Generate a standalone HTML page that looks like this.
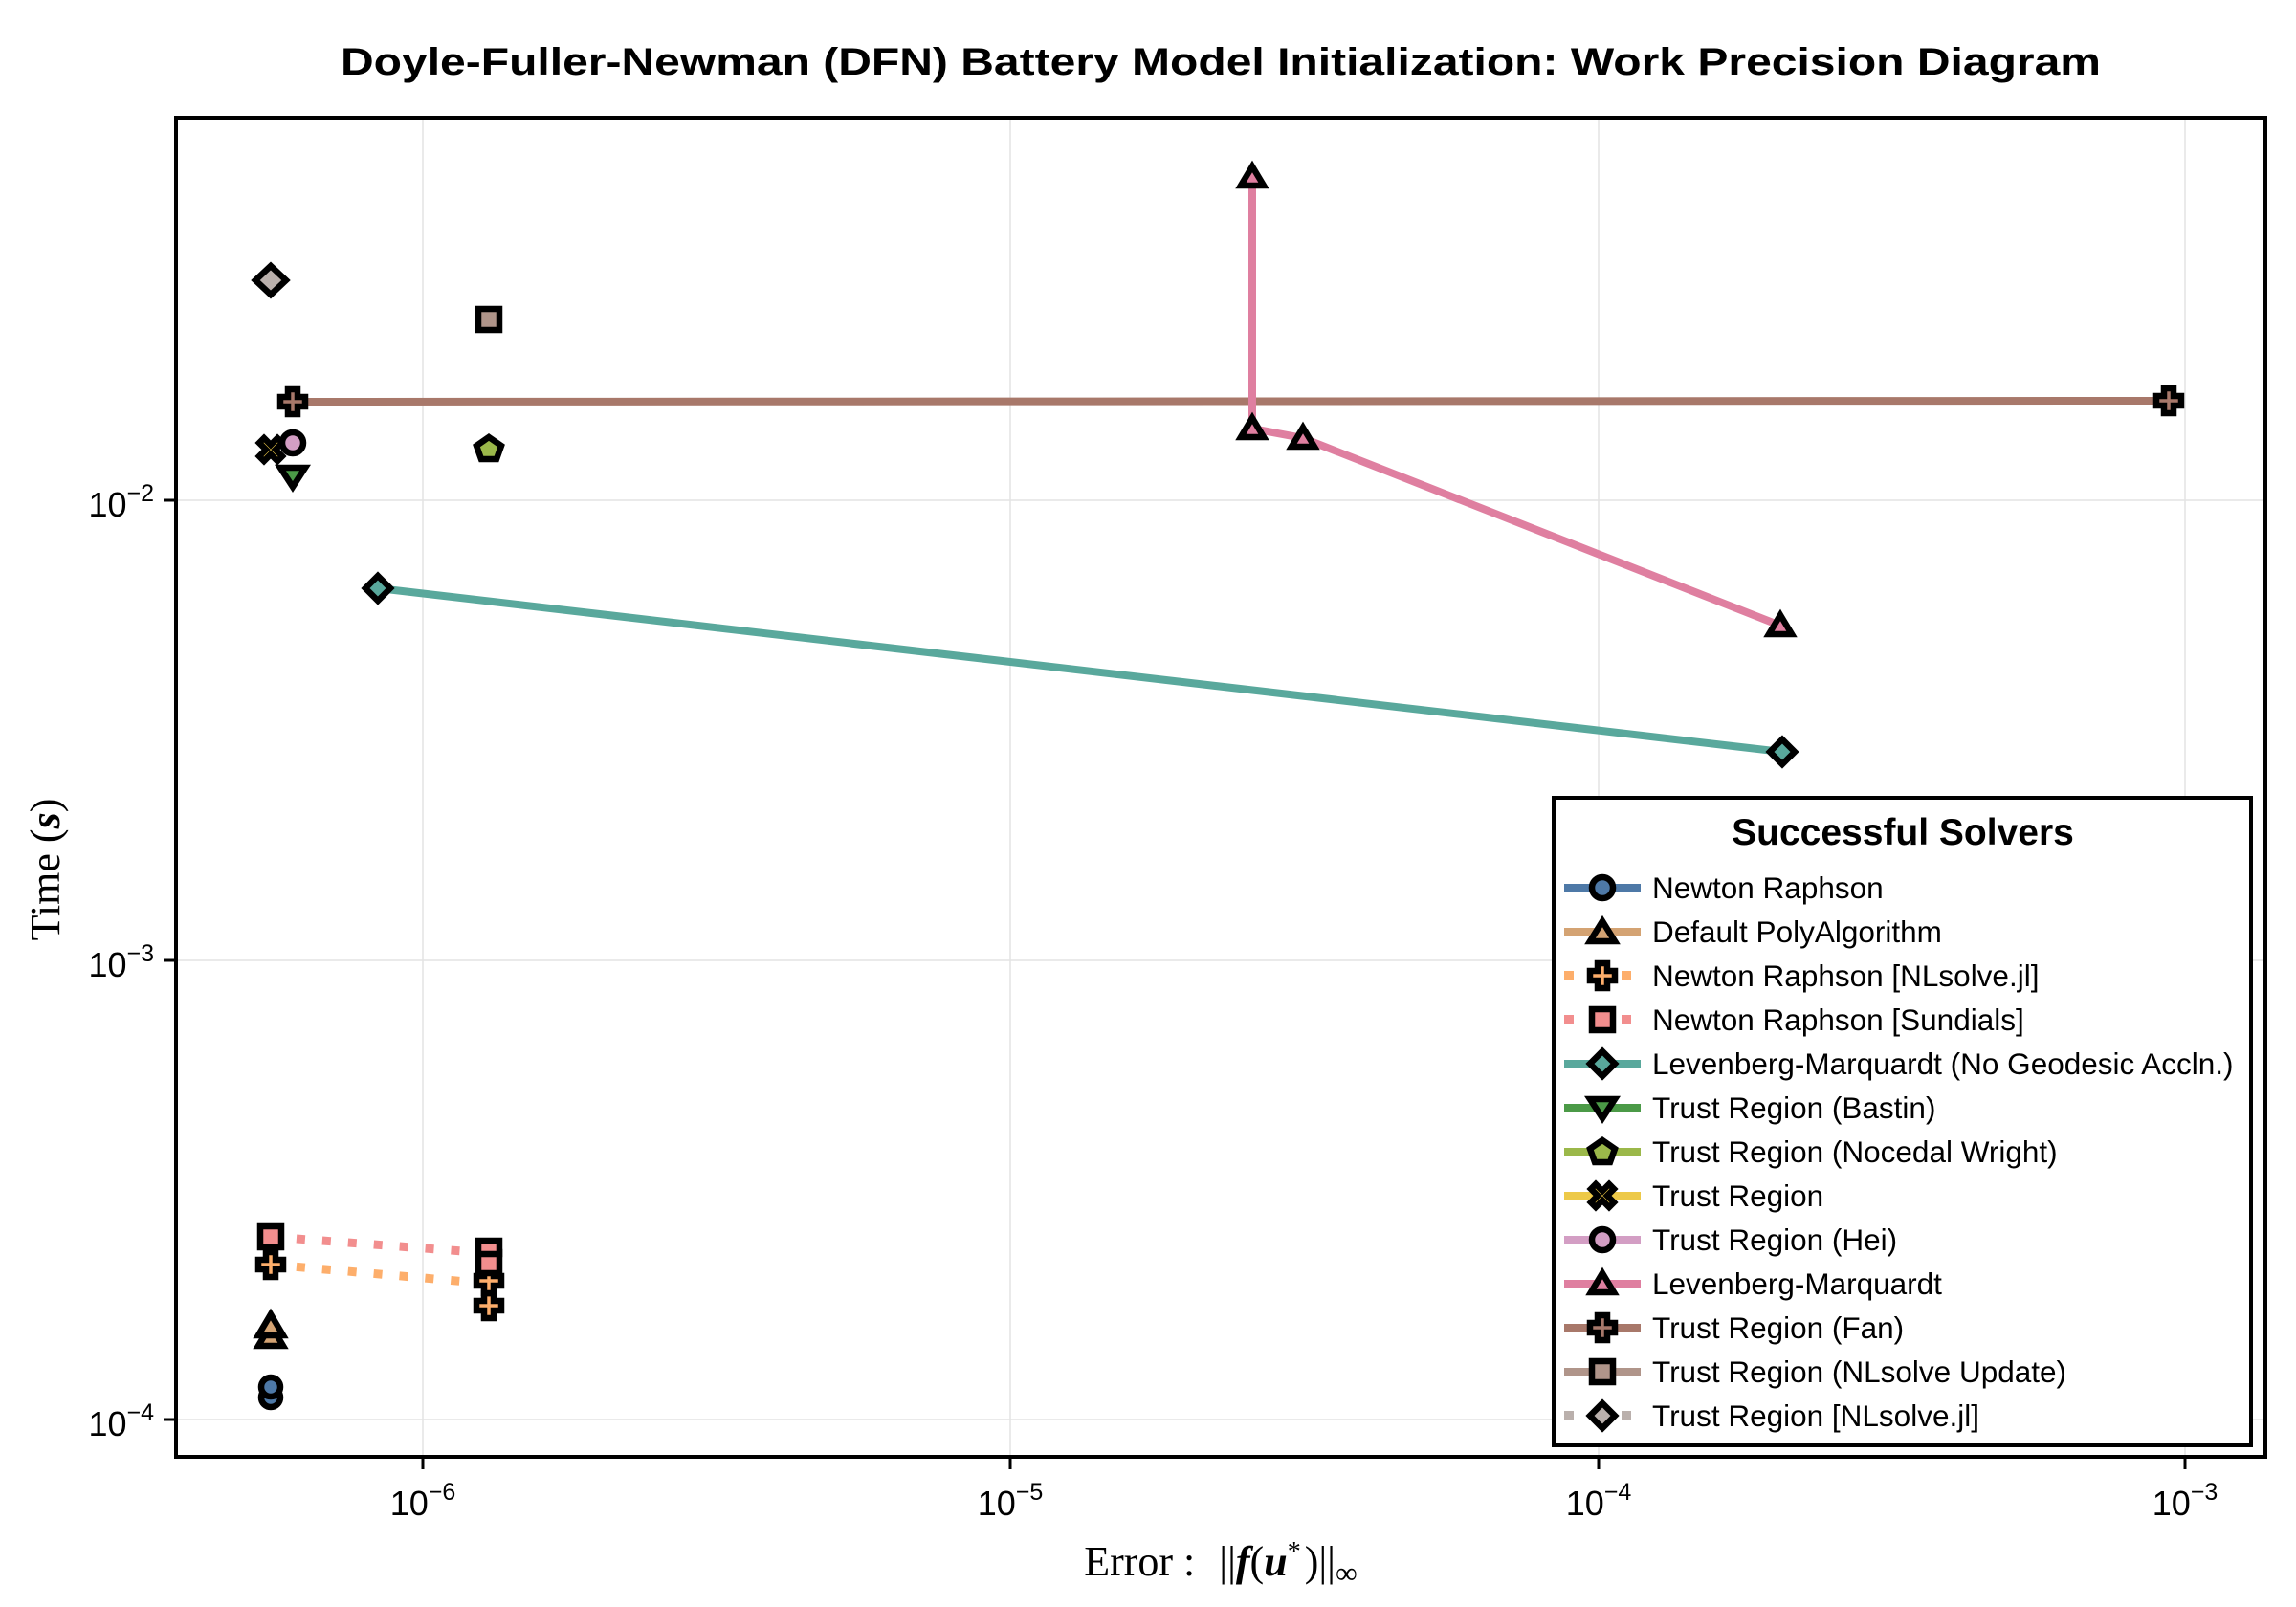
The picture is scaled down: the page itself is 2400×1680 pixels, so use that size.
<!DOCTYPE html>
<html><head><meta charset="utf-8"><style>html,body{margin:0;padding:0;background:#fff}svg{display:block}</style></head><body>
<svg width="2400" height="1680" viewBox="0 0 2400 1680" xmlns="http://www.w3.org/2000/svg" font-family="Liberation Sans, sans-serif">
<rect width="2400" height="1680" fill="#fff"/>
<text x="1276" y="78" text-anchor="middle" font-weight="bold" font-size="40" textLength="1840" lengthAdjust="spacingAndGlyphs">Doyle-Fuller-Newman (DFN) Battery Model Initialization: Work Precision Diagram</text>
<g stroke="#e3e3e3" stroke-width="1.5">
<line x1="442" y1="122" x2="442" y2="1523"/><line x1="1056" y1="122" x2="1056" y2="1523"/><line x1="1671" y1="122" x2="1671" y2="1523"/><line x1="2284" y1="122" x2="2284" y2="1523"/>
<line x1="184" y1="523" x2="2368" y2="523"/><line x1="184" y1="1004" x2="2368" y2="1004"/><line x1="184" y1="1484" x2="2368" y2="1484"/>
</g>
<polyline points="306,420 2267,419" fill="none" stroke="#a8786a" stroke-width="8"/>
<polyline points="395,615 1863,786" fill="none" stroke="#59a89c" stroke-width="8"/>
<polyline points="1309,185 1309,448 1362,458 1861,654" fill="none" stroke="#df7fa0" stroke-width="8"/>
<polyline points="283,1293 511,1310" fill="none" stroke="#f28e8e" stroke-width="9" stroke-dasharray="9,18"/>
<polyline points="283,1322 511,1342" fill="none" stroke="#fdae6b" stroke-width="9" stroke-dasharray="9,18"/>
<defs>
<path id="plus" d="M-5,-13h10v8h8v10h-8v8h-10v-8h-8v-10h8z"/>
<path id="xm" d="M-12,-7l5,-5l7,7l7,-7l5,5l-7,7l7,7l-5,5l-7,-7l-7,7l-5,-5l7,-7z"/>
</defs>
<g stroke="#000" stroke-width="6.5" stroke-linejoin="miter">
<circle cx="283" cy="1461" r="10" fill="#4e79a7"/><circle cx="283" cy="1450" r="10" fill="#4e79a7"/>
<path d="M283,1385l13,22h-26z" fill="#d4a373"/><path d="M283,1374l13,22h-26z" fill="#d4a373"/>
<use href="#plus" x="283" y="1322" fill="#fdae6b"/>
<rect x="272" y="1282" width="22" height="22" fill="#f28e8e"/>
<use href="#plus" x="511" y="1365" fill="#fdae6b"/><use href="#plus" x="511" y="1339" fill="#fdae6b"/>
<rect x="500" y="1309" width="22" height="22" fill="#f28e8e"/><rect x="500" y="1297" width="22" height="14" fill="#f28e8e"/>
<path d="M283,278l16,15l-16,15l-16,-15z" fill="#bab0ac"/>
<rect x="500" y="323" width="22" height="22" fill="#b0958a"/>
<path d="M306,509l-13,-20h26z" fill="#4b9a47"/>
<use href="#xm" x="283" y="470" fill="#edc948"/>
<circle cx="306" cy="463" r="11" fill="#d39ec4"/>
<use href="#plus" x="306" y="420" fill="#a8786a"/>
<path d="M511,457l13,9l-5,14h-16l-5,-14z" fill="#9bb84a"/>
<path d="M395,602l13,13l-13,13l-13,-13z" fill="#59a89c"/>
<path d="M1863,773l13,13l-13,13l-13,-13z" fill="#59a89c"/>
<path d="M1309,174l12,20h-24z" fill="#df7fa0"/><path d="M1309,437l12,20h-24z" fill="#df7fa0"/>
<path d="M1362,447l12,20h-24z" fill="#df7fa0"/><path d="M1861,643l12,20h-24z" fill="#df7fa0"/>
<use href="#plus" x="2267" y="419" fill="#a8786a"/>
</g>
<rect x="184" y="123" width="2184" height="1400" fill="none" stroke="#000" stroke-width="4"/>
<g stroke="#000" stroke-width="3">
<line x1="442" y1="1523" x2="442" y2="1536"/><line x1="1056" y1="1523" x2="1056" y2="1536"/><line x1="1671" y1="1523" x2="1671" y2="1536"/><line x1="2284" y1="1523" x2="2284" y2="1536"/>
<line x1="171" y1="523" x2="184" y2="523"/><line x1="171" y1="1004" x2="184" y2="1004"/><line x1="171" y1="1484" x2="184" y2="1484"/>
</g>
<g font-size="36" text-anchor="middle">
<text x="442" y="1584">10<tspan font-size="25" dy="-16">−6</tspan></text>
<text x="1056" y="1584">10<tspan font-size="25" dy="-16">−5</tspan></text>
<text x="1671" y="1584">10<tspan font-size="25" dy="-16">−4</tspan></text>
<text x="2284" y="1584">10<tspan font-size="25" dy="-16">−3</tspan></text>
</g>
<g font-size="36" text-anchor="end">
<text x="161" y="540">10<tspan font-size="25" dy="-16">−2</tspan></text>
<text x="161" y="1021">10<tspan font-size="25" dy="-16">−3</tspan></text>
<text x="161" y="1501">10<tspan font-size="25" dy="-16">−4</tspan></text>
</g>
<text x="1276" y="1647" text-anchor="middle" font-family="Liberation Serif, serif" font-size="44">Error :  <tspan dx="14">||</tspan><tspan font-style="italic" font-weight="bold">f</tspan>(<tspan font-style="italic" font-weight="bold">u</tspan><tspan font-size="28" dy="-16">*</tspan><tspan dy="16" dx="4">)||</tspan><tspan font-size="32" dy="8">∞</tspan></text>
<text transform="translate(62,909) rotate(-90)" text-anchor="middle" font-family="Liberation Serif, serif" font-size="44">Time  (<tspan font-style="italic" font-weight="bold">s</tspan>)</text>
<rect x="1624" y="834" width="729" height="677" fill="#fff" stroke="#000" stroke-width="4"/>
<text x="1989" y="883" text-anchor="middle" font-weight="bold" font-size="39">Successful Solvers</text>
<g font-size="31.5">
<text x="1727" y="939">Newton Raphson</text>
<text x="1727" y="985">Default PolyAlgorithm</text>
<text x="1727" y="1031">Newton Raphson [NLsolve.jl]</text>
<text x="1727" y="1077">Newton Raphson [Sundials]</text>
<text x="1727" y="1123">Levenberg-Marquardt (No Geodesic Accln.)</text>
<text x="1727" y="1169">Trust Region (Bastin)</text>
<text x="1727" y="1215">Trust Region (Nocedal Wright)</text>
<text x="1727" y="1261">Trust Region</text>
<text x="1727" y="1307">Trust Region (Hei)</text>
<text x="1727" y="1353">Levenberg-Marquardt</text>
<text x="1727" y="1399">Trust Region (Fan)</text>
<text x="1727" y="1445">Trust Region (NLsolve Update)</text>
<text x="1727" y="1491">Trust Region [NLsolve.jl]</text>
</g>
<g stroke-width="8">
<line x1="1635" y1="928" x2="1715" y2="928" stroke="#4e79a7"/>
<line x1="1635" y1="974" x2="1715" y2="974" stroke="#d4a373"/>
<line x1="1635" y1="1020" x2="1715" y2="1020" stroke="#fdae6b" stroke-width="10" stroke-dasharray="10,20"/>
<line x1="1635" y1="1066" x2="1715" y2="1066" stroke="#f28e8e" stroke-width="10" stroke-dasharray="10,20"/>
<line x1="1635" y1="1112" x2="1715" y2="1112" stroke="#59a89c"/>
<line x1="1635" y1="1158" x2="1715" y2="1158" stroke="#4b9a47"/>
<line x1="1635" y1="1204" x2="1715" y2="1204" stroke="#9bb84a"/>
<line x1="1635" y1="1250" x2="1715" y2="1250" stroke="#edc948"/>
<line x1="1635" y1="1296" x2="1715" y2="1296" stroke="#d39ec4"/>
<line x1="1635" y1="1342" x2="1715" y2="1342" stroke="#df7fa0"/>
<line x1="1635" y1="1388" x2="1715" y2="1388" stroke="#a8786a"/>
<line x1="1635" y1="1434" x2="1715" y2="1434" stroke="#b0958a"/>
<line x1="1635" y1="1480" x2="1715" y2="1480" stroke="#bab0ac" stroke-width="10" stroke-dasharray="10,20"/>
</g>
<g stroke="#000" stroke-width="6.5">
<circle cx="1675" cy="928" r="11" fill="#4e79a7"/>
<path d="M1675,963l13,21h-26z" fill="#d4a373"/>
<use href="#plus" x="1675" y="1020" fill="#fdae6b"/>
<rect x="1664" y="1055" width="22" height="22" fill="#f28e8e"/>
<path d="M1675,1099l13,13l-13,13l-13,-13z" fill="#59a89c"/>
<path d="M1675,1169l-13,-20h26z" fill="#4b9a47"/>
<path d="M1675,1192l13,9l-5,14h-16l-5,-14z" fill="#9bb84a"/>
<use href="#xm" x="1675" y="1250" fill="#edc948"/>
<circle cx="1675" cy="1296" r="11" fill="#d39ec4"/>
<path d="M1675,1331l12,20h-24z" fill="#df7fa0"/>
<use href="#plus" x="1675" y="1388" fill="#a8786a"/>
<rect x="1664" y="1423" width="22" height="22" fill="#b0958a"/>
<path d="M1675,1467l13,13l-13,13l-13,-13z" fill="#bab0ac"/>
</g>
</svg>
</body></html>
